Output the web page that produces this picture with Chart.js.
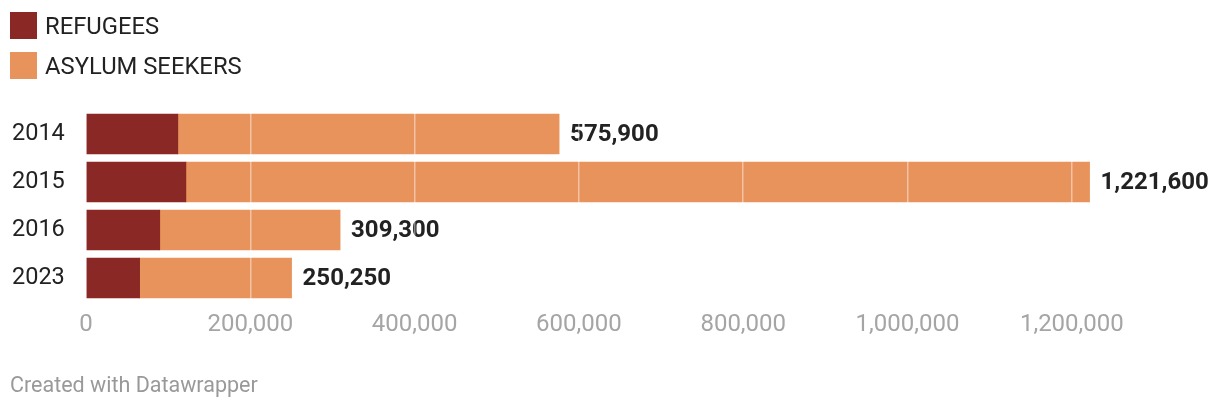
<!DOCTYPE html>
<html>
<head>
<meta charset="utf-8">
<script src="https://cdn.jsdelivr.net/npm/chart.js@4/dist/chart.umd.min.js"></script>
<style>
  html, body { margin: 0; padding: 0; background: #fff; }
  body { width: 1220px; height: 410px; position: relative; overflow: hidden; font-family: Roboto, sans-serif; }
  #chart-wrap { position: absolute; left: 0; top: 0; width: 1220px; height: 410px; }
  .legend { position: absolute; left: 10px; top: 12px; }
  .legend-item { display: flex; align-items: center; height: 27px; margin-bottom: 13px; font-size: 23.8px; color: #222; }
  .legend-box { width: 27px; height: 27px; margin-right: 8px; }
  .footer { position: absolute; left: 10px; top: 372px; font-size: 21.5px; color: #999; }
</style>
</head>
<body>
<div id="chart-wrap"><canvas id="myChart"></canvas></div>
<div class="legend">
  <div class="legend-item"><div class="legend-box" style="background:#8a2825"></div>REFUGEES</div>
  <div class="legend-item"><div class="legend-box" style="background:#e8935b"></div>ASYLUM SEEKERS</div>
</div>
<div class="footer">Created with Datawrapper</div>
<script>
const years = ['2014', '2015', '2016', '2023'];
const refugees = [111800, 121600, 89800, 65300];
const asylumSeekers = [464100, 1100000, 219500, 184950];
const totals = [575900, 1221600, 309300, 250250];
const xTicks = [0, 200000, 400000, 600000, 800000, 1000000, 1200000];

// bold totals at the end of each stacked bar
const totalLabels = {
  id: 'totalLabels',
  afterDatasetsDraw(chart) {
    const { ctx, scales } = chart;
    ctx.save();
    ctx.font = 'bold 24px Roboto, sans-serif';
    ctx.fillStyle = '#222';
    ctx.textAlign = 'left';
    ctx.textBaseline = 'middle';
    totals.forEach((t, i) => {
      const x = scales.x.getPixelForValue(t) + 11;
      const y = scales.y.getPixelForValue(i) + 1;
      ctx.fillText(t.toLocaleString('en-US'), x, y);
    });
    ctx.restore();
  }
};

new Chart(document.getElementById('myChart'), {
  type: 'bar',
  data: {
    labels: years,
    datasets: [
      { label: 'REFUGEES', data: refugees, backgroundColor: '#8a2825', barThickness: 40 },
      { label: 'ASYLUM SEEKERS', data: asylumSeekers, backgroundColor: '#e8935b', barThickness: 40 },
    ],
  },
  options: {
    indexAxis: 'y',
    responsive: true,
    maintainAspectRatio: false,
    animation: false,
    layout: { padding: { top: 110, left: 12, right: 66, bottom: 58 } },
    plugins: {
      legend: { display: false },
      tooltip: { enabled: false },
    },
    scales: {
      x: {
        stacked: true,
        min: 0,
        max: 1300000,
        afterFit(scale) { scale.height = 50; },
        afterBuildTicks(scale) { scale.ticks = xTicks.map(v => ({ value: v })); },
        grid: { color: 'rgba(255,255,255,0.45)', lineWidth: 1.5, drawTicks: false, z: 1 },
        border: { display: false },
        ticks: {
          color: '#a5a5a5',
          font: { family: 'Roboto', size: 24 },
          padding: 9,
          callback: v => v.toLocaleString('en-US'),
        },
      },
      y: {
        stacked: true,
        afterFit(scale) { scale.width = 74; },
        grid: { display: false },
        border: { display: false },
        ticks: {
          color: '#222',
          crossAlign: 'far',
          font: { family: 'Roboto', size: 23.5 },
        },
      },
    },
  },
  plugins: [totalLabels],
});
</script>
</body>
</html>
